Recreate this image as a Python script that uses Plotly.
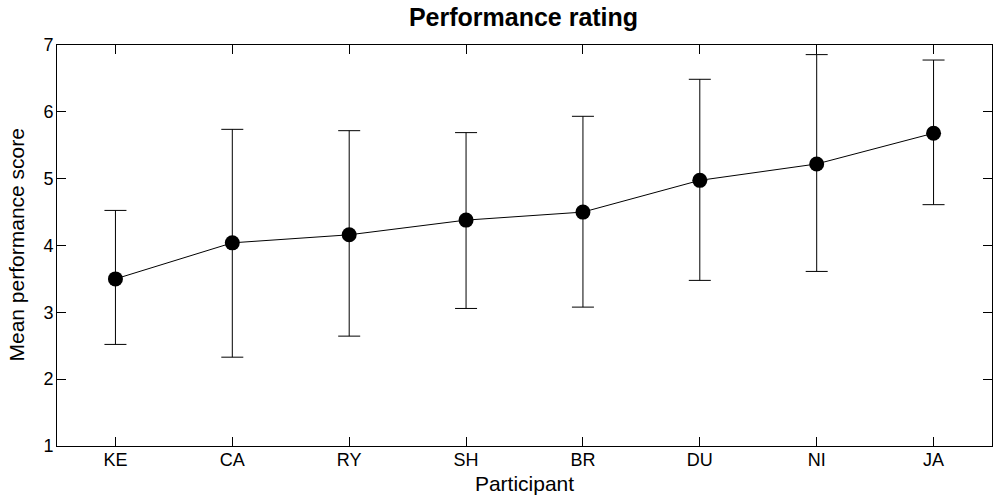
import plotly.graph_objects as go

participants = ["KE", "CA", "RY", "SH", "BR", "DU", "NI", "JA"]
mean_score = [3.50, 4.04, 4.16, 4.38, 4.50, 4.975, 5.22, 5.68]
upper_bound = [4.525, 5.738, 5.718, 5.689, 5.933, 6.487, 6.856, 6.775]
lower_bound = [2.52, 2.329, 2.644, 3.058, 3.078, 3.478, 3.612, 4.611]
y_ticks = [1, 2, 3, 4, 5, 6, 7]

x_pos = list(range(1, len(participants) + 1))
err_plus = [u - m for u, m in zip(upper_bound, mean_score)]
err_minus = [m - l for m, l in zip(mean_score, lower_bound)]

font_family = "Liberation Sans, Arial, sans-serif"

fig = go.Figure()
fig.add_trace(go.Scatter(
    x=x_pos, y=mean_score,
    mode="lines+markers",
    line=dict(color="black", width=1),
    marker=dict(color="black", size=15),
    error_y=dict(type="data", symmetric=False, array=err_plus, arrayminus=err_minus,
                 color="black", thickness=1, width=11),
    showlegend=False,
))

fig.add_annotation(
    text="Mean performance score", textangle=-90,
    xref="paper", yref="paper", x=(16 - 57) / 935, y=0.5,
    xanchor="center", yanchor="middle", showarrow=False,
    font=dict(size=21, family=font_family, color="black"),
)

fig.update_layout(
    width=994, height=502,
    margin=dict(l=57, r=2, t=45, b=56, autoexpand=False),
    paper_bgcolor="white", plot_bgcolor="white",
    font=dict(family=font_family, size=18, color="black"),
    title=dict(text="<b>Performance rating</b>", x=523.5 / 994, xanchor="center",
               xref="container", y=1 - 17.5 / 502, yref="container", yanchor="middle",
               font=dict(size=25, family=font_family)),
    xaxis=dict(
        range=[0.5, 8.5], tickmode="array", tickvals=x_pos, ticktext=participants,
        ticks="inside", ticklen=9, tickcolor="black", showline=True, linecolor="black",
        linewidth=1, mirror="ticks", showgrid=False, zeroline=False, automargin=False,
        tickfont=dict(size=18), ticklabelstandoff=-3,
        title=dict(text="Participant", standoff=7, font=dict(size=21)),
    ),
    yaxis=dict(
        range=[1, 7], tickmode="array", tickvals=y_ticks,
        ticks="inside", ticklen=9, tickcolor="black", showline=True, linecolor="black",
        linewidth=1, mirror="ticks", showgrid=False, zeroline=False, automargin=False,
        tickfont=dict(size=18), ticklabelstandoff=-1,
    ),
)

fig.write_html("out.html", config={"displayModeBar": False},
               post_script="document.body.style.margin='0';")
